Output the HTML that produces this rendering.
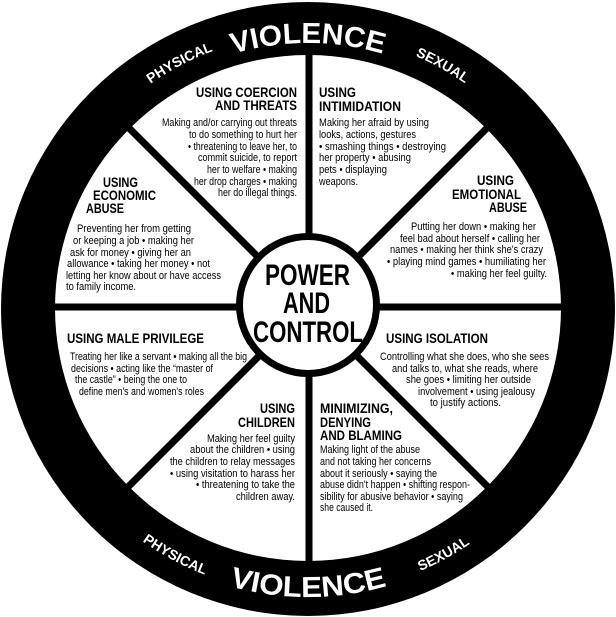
<!DOCTYPE html>
<html><head><meta charset="utf-8"><style>
html,body{margin:0;padding:0;background:#fff;}
svg{display:block;}
text{font-family:"Liberation Sans Narrow","Liberation Sans",sans-serif;fill:#000;}
.h{font-weight:bold;font-size:14px;}
.b{font-size:11px;}
.r{font-family:"Liberation Sans",sans-serif;font-weight:bold;fill:#fff;}
.c{font-weight:bold;font-size:30px;}
</style></head><body>
<svg width="616" height="617" viewBox="0 0 616 617" xmlns="http://www.w3.org/2000/svg">
<defs>
<path id="t1" d="M 43 308 A 265 265 0 0 1 573 308"/>
<path id="t2" d="M 34 308 A 274 274 0 0 1 582 308"/>
<path id="b1" d="M 19 308 A 289 289 0 0 0 597 308"/>
<path id="b2" d="M 22 308 A 286 286 0 0 0 594 308"/>
</defs>
<circle cx="308" cy="309" r="307" fill="#000"/>
<circle cx="308" cy="308" r="253" fill="#fff"/>
<g stroke="#000" stroke-width="7">
<line x1="309" y1="50" x2="309" y2="566"/>
<line x1="50" y1="307" x2="566" y2="307"/>
<line x1="125" y1="124" x2="491" y2="490"/>
<line x1="491" y1="124" x2="125" y2="490"/>
</g>
<circle cx="308" cy="305" r="68.5" fill="#fff" stroke="#000" stroke-width="7"/>

<text class="r" font-size="29"><textPath href="#t1" startOffset="416" text-anchor="middle" textLength="152" lengthAdjust="spacingAndGlyphs">VIOLENCE</textPath></text>
<text class="r" font-size="14"><textPath href="#t2" startOffset="298" text-anchor="middle">PHYSICAL</textPath></text>
<text class="r" font-size="14"><textPath href="#t2" startOffset="569" text-anchor="middle">SEXUAL</textPath></text>
<text class="r" font-size="29"><textPath href="#b1" startOffset="454" text-anchor="middle" textLength="160" lengthAdjust="spacingAndGlyphs">VIOLENCE</textPath></text>
<text class="r" font-size="14"><textPath href="#b2" startOffset="308" text-anchor="middle">PHYSICAL</textPath></text>
<text class="r" font-size="14"><textPath href="#b2" startOffset="593" text-anchor="middle">SEXUAL</textPath></text>

<g class="c">
<text x="265" y="285" textLength="85" lengthAdjust="spacingAndGlyphs">POWER</text>
<text x="283" y="313" textLength="47" lengthAdjust="spacingAndGlyphs">AND</text>
<text x="253" y="342" textLength="110" lengthAdjust="spacingAndGlyphs">CONTROL</text>
</g>

<g lengthAdjust="spacingAndGlyphs">
<!-- Coercion -->
<text class="h" x="196" y="97" textLength="101" lengthAdjust="spacingAndGlyphs">USING COERCION</text>
<text class="h" x="215" y="110" textLength="82" lengthAdjust="spacingAndGlyphs">AND THREATS</text>
<text class="b" x="162" y="126" textLength="135" lengthAdjust="spacingAndGlyphs">Making and/or carrying out threats</text>
<text class="b" x="189" y="138" textLength="108" lengthAdjust="spacingAndGlyphs">to do something to hurt her</text>
<text class="b" x="188" y="150" textLength="109" lengthAdjust="spacingAndGlyphs">• threatening to leave her, to</text>
<text class="b" x="198" y="161" textLength="99" lengthAdjust="spacingAndGlyphs">commit suicide, to report</text>
<text class="b" x="207" y="173" textLength="90" lengthAdjust="spacingAndGlyphs">her to welfare • making</text>
<text class="b" x="194" y="185" textLength="103" lengthAdjust="spacingAndGlyphs">her drop charges • making</text>
<text class="b" x="218" y="196" textLength="79" lengthAdjust="spacingAndGlyphs">her do illegal things.</text>

<!-- Intimidation -->
<text class="h" x="319" y="97" textLength="37" lengthAdjust="spacingAndGlyphs">USING</text>
<text class="h" x="319" y="111" textLength="82" lengthAdjust="spacingAndGlyphs">INTIMIDATION</text>
<text class="b" x="319" y="126" textLength="110" lengthAdjust="spacingAndGlyphs">Making her afraid by using</text>
<text class="b" x="319" y="138" textLength="97" lengthAdjust="spacingAndGlyphs">looks, actions, gestures</text>
<text class="b" x="319" y="150" textLength="127" lengthAdjust="spacingAndGlyphs">• smashing things • destroying</text>
<text class="b" x="319" y="161" textLength="92" lengthAdjust="spacingAndGlyphs">her property • abusing</text>
<text class="b" x="319" y="173" textLength="68" lengthAdjust="spacingAndGlyphs">pets • displaying</text>
<text class="b" x="319" y="185" textLength="39" lengthAdjust="spacingAndGlyphs">weapons.</text>

<!-- Economic -->
<text class="h" x="103" y="187" textLength="35" lengthAdjust="spacingAndGlyphs">USING</text>
<text class="h" x="93" y="200" textLength="63" lengthAdjust="spacingAndGlyphs">ECONOMIC</text>
<text class="h" x="86" y="213" textLength="38" lengthAdjust="spacingAndGlyphs">ABUSE</text>
<text class="b" x="77" y="232" textLength="114" lengthAdjust="spacingAndGlyphs">Preventing her from getting</text>
<text class="b" x="73" y="244" textLength="121" lengthAdjust="spacingAndGlyphs">or keeping a job • making her</text>
<text class="b" x="70" y="256" textLength="121" lengthAdjust="spacingAndGlyphs">ask for money • giving her an</text>
<text class="b" x="67" y="267" textLength="143" lengthAdjust="spacingAndGlyphs">allowance • taking her money • not</text>
<text class="b" x="66" y="279" textLength="155" lengthAdjust="spacingAndGlyphs">letting her know about or have access</text>
<text class="b" x="66" y="290" textLength="70" lengthAdjust="spacingAndGlyphs">to family income.</text>

<!-- Emotional -->
<text class="h" x="477" y="185" textLength="37" lengthAdjust="spacingAndGlyphs">USING</text>
<text class="h" x="452" y="199" textLength="69" lengthAdjust="spacingAndGlyphs">EMOTIONAL</text>
<text class="h" x="489" y="212" textLength="38" lengthAdjust="spacingAndGlyphs">ABUSE</text>
<text class="b" x="411" y="230" textLength="125" lengthAdjust="spacingAndGlyphs">Putting her down • making her</text>
<text class="b" x="400" y="242" textLength="140" lengthAdjust="spacingAndGlyphs">feel bad about herself • calling her</text>
<text class="b" x="390" y="253" textLength="153" lengthAdjust="spacingAndGlyphs">names • making her think she's crazy</text>
<text class="b" x="387" y="265" textLength="159" lengthAdjust="spacingAndGlyphs">• playing mind games • humiliating her</text>
<text class="b" x="451" y="277" textLength="96" lengthAdjust="spacingAndGlyphs">• making her feel guilty.</text>

<!-- Male privilege -->
<text class="h" x="67" y="343" textLength="137" lengthAdjust="spacingAndGlyphs">USING MALE PRIVILEGE</text>
<text class="b" x="70" y="360" textLength="177" lengthAdjust="spacingAndGlyphs">Treating her like a servant • making all the big</text>
<text class="b" x="71" y="372" textLength="142" lengthAdjust="spacingAndGlyphs">decisions • acting like the “master of</text>
<text class="b" x="75" y="383" textLength="112" lengthAdjust="spacingAndGlyphs">the castle” • being the one to</text>
<text class="b" x="79" y="395" textLength="125" lengthAdjust="spacingAndGlyphs">define men's and women's roles</text>

<!-- Isolation -->
<text class="h" x="386" y="343" textLength="102" lengthAdjust="spacingAndGlyphs">USING ISOLATION</text>
<text class="b" x="380" y="360" textLength="169" lengthAdjust="spacingAndGlyphs">Controlling what she does, who she sees</text>
<text class="b" x="392" y="372" textLength="146" lengthAdjust="spacingAndGlyphs">and talks to, what she reads, where</text>
<text class="b" x="406" y="383" textLength="125" lengthAdjust="spacingAndGlyphs">she goes • limiting her outside</text>
<text class="b" x="418" y="395" textLength="117" lengthAdjust="spacingAndGlyphs">involvement • using jealousy</text>
<text class="b" x="430" y="406" textLength="71" lengthAdjust="spacingAndGlyphs">to justify actions.</text>

<!-- Children -->
<text class="h" x="260" y="413" textLength="35" lengthAdjust="spacingAndGlyphs">USING</text>
<text class="h" x="238" y="427" textLength="57" lengthAdjust="spacingAndGlyphs">CHILDREN</text>
<text class="b" x="207" y="442" textLength="88" lengthAdjust="spacingAndGlyphs">Making her feel guilty</text>
<text class="b" x="190" y="453" textLength="105" lengthAdjust="spacingAndGlyphs">about the children • using</text>
<text class="b" x="170" y="465" textLength="125" lengthAdjust="spacingAndGlyphs">the children to relay messages</text>
<text class="b" x="170" y="477" textLength="125" lengthAdjust="spacingAndGlyphs">• using visitation to harass her</text>
<text class="b" x="196" y="488" textLength="99" lengthAdjust="spacingAndGlyphs">• threatening to take the</text>
<text class="b" x="236" y="500" textLength="59" lengthAdjust="spacingAndGlyphs">children away.</text>

<!-- Minimizing -->
<text class="h" x="320" y="413" textLength="73" lengthAdjust="spacingAndGlyphs">MINIMIZING,</text>
<text class="h" x="320" y="427" textLength="51" lengthAdjust="spacingAndGlyphs">DENYING</text>
<text class="h" x="320" y="440" textLength="82" lengthAdjust="spacingAndGlyphs">AND BLAMING</text>
<text class="b" x="320" y="453" textLength="100" lengthAdjust="spacingAndGlyphs">Making light of the abuse</text>
<text class="b" x="320" y="465" textLength="111" lengthAdjust="spacingAndGlyphs">and not taking her concerns</text>
<text class="b" x="320" y="477" textLength="117" lengthAdjust="spacingAndGlyphs">about it seriously • saying the</text>
<text class="b" x="320" y="488" textLength="150" lengthAdjust="spacingAndGlyphs">abuse didn't happen • shifting respon-</text>
<text class="b" x="320" y="500" textLength="143" lengthAdjust="spacingAndGlyphs">sibility for abusive behavior • saying</text>
<text class="b" x="320" y="511" textLength="53" lengthAdjust="spacingAndGlyphs">she caused it.</text>
</g>
</svg>
</body></html>
